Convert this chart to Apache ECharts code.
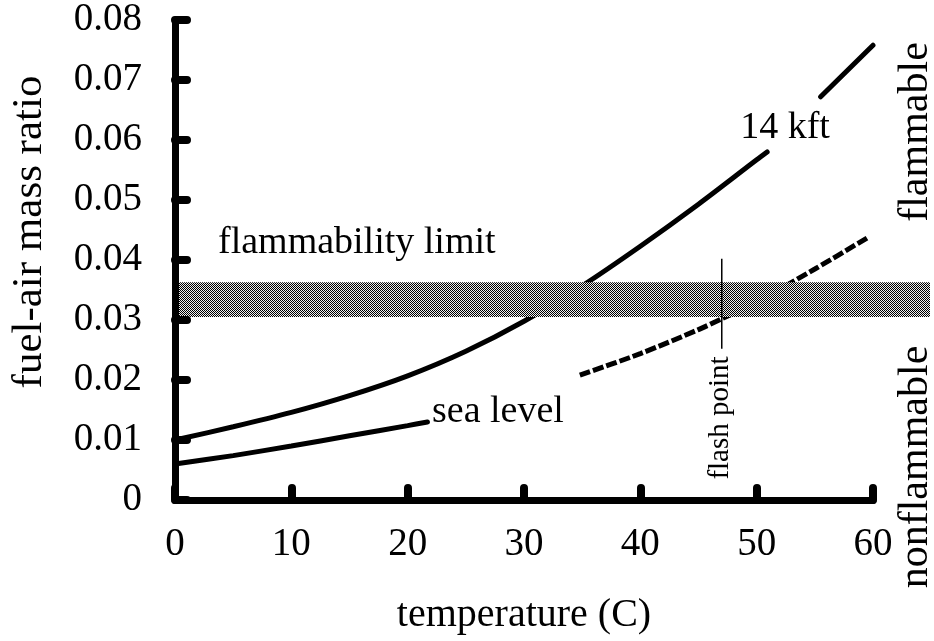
<!DOCTYPE html>
<html>
<head>
<meta charset="utf-8">
<script src="https://cdn.jsdelivr.net/npm/echarts@6/dist/echarts.min.js"></script>
<style>
  html, body { margin: 0; padding: 0; background: #fff; }
  #chart { width: 934px; height: 641px; }
</style>
</head>
<body>
<div id="chart"></div>
<script>
// Temperature (C) readings and fuel-air mass ratio for each altitude.
// A null entry breaks the curve where its label sits.
const temp14kft  = [0, 5, 10, 15, 20, 25, 30, 35, 40, 45, 50, 50.9, null, 55.5, 60];
const ratio14kft = [0.0100, 0.0122, 0.0146, 0.0174, 0.0207, 0.0248, 0.0298, 0.0357, 0.0423, 0.0493, 0.0567, 0.0580, null, 0.0672, 0.0758];

const tempSeaSolid  = [0, 5, 10, 15, 20, 21.7];
const ratioSeaSolid = [0.0060, 0.0074, 0.0090, 0.0107, 0.0124, 0.0130];

const tempSeaDash  = [34.8, 40, 45, 47, 50, 55, 59.6];
const ratioSeaDash = [0.0208, 0.0244, 0.0284, 0.0302, 0.0330, 0.0385, 0.0438];

// Flammability limit band (ratio range) and its horizontal extent (C)
const limitRange = [0.0305, 0.0363];
const limitTemp  = [0, 64.9];

// Flash point marker
const flashTemp  = [47, 47];
const flashRatio = [0.0252, 0.0402];

const xTicks = [0, 10, 20, 30, 40, 50, 60];
const yTicks = [0, 0.01, 0.02, 0.03, 0.04, 0.05, 0.06, 0.07, 0.08];

const serif = "'Liberation Serif', 'Times New Roman', serif";

function pairs(xs, ys) {
  return xs.map((x, i) => (x === null ? [null, '-'] : [x, ys[i]]));
}

// Dithered fill for the band
const pat = document.createElement('canvas');
pat.width = 2; pat.height = 2;
const pc = pat.getContext('2d');
pc.fillStyle = '#eeeeee'; pc.fillRect(0, 0, 2, 2);
pc.fillStyle = '#000000'; pc.fillRect(0, 0, 1, 1); pc.fillRect(1, 1, 1, 1);

const chart = echarts.init(document.getElementById('chart'), null, { renderer: 'canvas' });

const axisCommon = {
  type: 'value',
  z: 10,
  splitLine: { show: false },
  axisLine: { show: true, lineStyle: { color: '#000', width: 7, cap: 'round' } },
  axisTick: { show: true, inside: true, length: 12, lineStyle: { color: '#000', width: 8, cap: 'round' } }
};

chart.setOption({
  animation: false,
  backgroundColor: '#fff',
  grid: { left: 175, right: 61, top: 20, bottom: 141 },
  xAxis: Object.assign({}, axisCommon, {
    min: xTicks[0], max: xTicks[xTicks.length - 1], interval: 10,
    name: 'temperature (C)', nameLocation: 'middle', nameGap: 95,
    nameTextStyle: { color: '#000', fontFamily: serif, fontSize: 40 },
    axisLabel: { color: '#000', fontFamily: serif, fontSize: 39, margin: 25 }
  }),
  yAxis: Object.assign({}, axisCommon, {
    min: yTicks[0], max: yTicks[yTicks.length - 1], interval: 0.01,
    name: 'fuel-air mass ratio', nameLocation: 'middle', nameGap: 124, nameRotate: 90,
    nameTextStyle: { color: '#000', fontFamily: serif, fontSize: 43, padding: [0, 0, 0, 56] },
    axisLabel: {
      color: '#000', fontFamily: serif, fontSize: 39, margin: 33,
      formatter: v => (v === 0 ? '0' : v.toFixed(2))
    }
  }),
  series: [
    {
      name: '14 kft', type: 'line', data: pairs(temp14kft, ratio14kft),
      smooth: 0.3, showSymbol: false, connectNulls: false, z: 2,
      lineStyle: { color: '#000', width: 5, cap: 'round' }
    },
    {
      name: 'sea level', type: 'line', data: pairs(tempSeaSolid, ratioSeaSolid),
      smooth: 0.3, showSymbol: false, z: 2,
      lineStyle: { color: '#000', width: 5, cap: 'round' }
    },
    {
      name: 'sea level (upper)', type: 'line', data: pairs(tempSeaDash, ratioSeaDash),
      smooth: 0.3, showSymbol: false, z: 2,
      lineStyle: { color: '#000', width: 5, type: [11, 3] }
    },
    {
      name: 'flammability limit', type: 'custom', z: 4, clip: false,
      data: [[limitTemp[0], limitRange[0], limitTemp[1], limitRange[1]]],
      renderItem: (params, api) => {
        const p0 = api.coord([api.value(0), api.value(3)]);
        const p1 = api.coord([api.value(2), api.value(1)]);
        return {
          type: 'rect',
          shape: { x: p0[0], y: p0[1], width: p1[0] - p0[0], height: p1[1] - p0[1] },
          style: { fill: { image: pat, repeat: 'repeat' } }
        };
      }
    },
    {
      name: 'flash point', type: 'line', data: pairs(flashTemp, flashRatio),
      showSymbol: false, z: 6,
      lineStyle: { color: '#000', width: 1.5 }
    }
  ],
  graphic: [
    { type: 'text', x: 218, y: 243, z: 20, style: { text: 'flammability limit', font: '38px ' + serif, fill: '#000', textVerticalAlign: 'middle' } },
    { type: 'text', x: 785, y: 128, z: 20, style: { text: '14 kft', font: '38px ' + serif, fill: '#000', textAlign: 'center', textVerticalAlign: 'middle' } },
    { type: 'text', x: 432, y: 412, z: 20, style: { text: 'sea level', font: '38px ' + serif, fill: '#000', textVerticalAlign: 'middle' } },
    { type: 'text', x: 720, y: 418, rotation: Math.PI / 2, z: 20, style: { text: 'flash point', font: '29px ' + serif, fill: '#000', textAlign: 'center', textVerticalAlign: 'middle' } },
    { type: 'text', x: 916, y: 132, rotation: Math.PI / 2, z: 20, style: { text: 'flammable', font: '42px ' + serif, fill: '#000', textAlign: 'center', textVerticalAlign: 'middle' } },
    { type: 'text', x: 916, y: 467, rotation: Math.PI / 2, z: 20, style: { text: 'nonflammable', font: '42px ' + serif, fill: '#000', textAlign: 'center', textVerticalAlign: 'middle' } }
  ]
});
</script>
</body>
</html>
